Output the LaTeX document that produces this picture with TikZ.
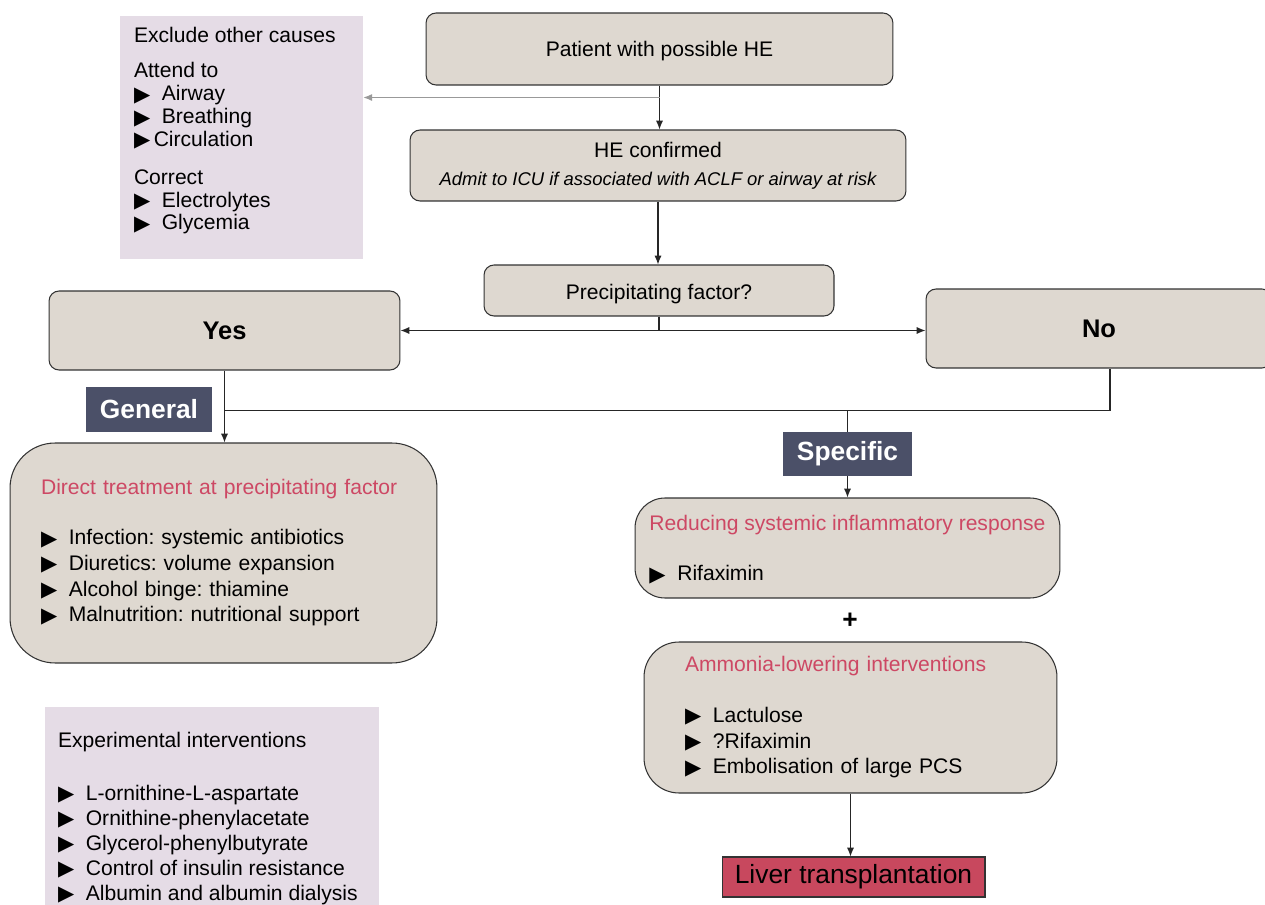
\documentclass[tikz,border=0pt]{standalone}
\usepackage{fontspec}
\setmainfont{Liberation Sans}
\newfontfamily\symfont{DejaVu Sans}
\usetikzlibrary{arrows.meta,positioning}
\definecolor{boxfill}{RGB}{222,216,208}
\definecolor{lilac}{RGB}{229,220,230}
\definecolor{titlepink}{RGB}{205,72,100}
\definecolor{slate}{RGB}{75,80,104}
\definecolor{liverred}{RGB}{200,72,94}
\frenchspacing
\newcommand{\pinktitle}[1]{\textcolor{titlepink}{#1}}
\newcommand{\tri}{\smash{\raisebox{-0.3pt}{\symfont\fontsize{12}{13}\selectfont ▶}}}
\newcommand{\bul}{\tri\hspace{0.55em}}
\tikzset{
  flowbox/.style={draw=black!80, fill=boxfill, line width=0.6pt, rounded corners=0.2cm,
    align=center, font=\fontsize{12}{14.7}\selectfont},
  listbox/.style={flowbox, align=left},
  notebox/.style={fill=lilac, inner sep=0pt},
  notetext/.style={anchor=north west, inner sep=0pt, align=left, font=\fontsize{12}{13}\selectfont},
  tag/.style={fill=slate, text=white, font=\fontsize{15}{18}\selectfont\bfseries, inner sep=0pt},
  link/.style={line width=0.6pt, draw=black!85},
}
\begin{document}
\begin{tikzpicture}[x=0.02cm, y=-0.02cm, >={Latex[length=5pt,width=4pt]}]
\useasboundingbox (0,0) rectangle (1265,905);
% main column
\node[flowbox, minimum width=9.34cm, minimum height=1.44cm, text height=1.1em] (patient) at (659.5,49) {Patient with possible HE};
\node[flowbox, minimum width=9.92cm, minimum height=1.42cm] (confirmed) at (658,165.5)
    {HE confirmed\\[1pt]{\fontsize{10.5}{13}\selectfont\itshape Admit to ICU if associated with ACLF or airway at risk}};
\node[flowbox, minimum width=7cm, minimum height=1.02cm, text height=1.3em] (factor) at (659,290.5) {Precipitating factor?};
\node[flowbox, minimum width=7.02cm, minimum height=1.58cm, font=\fontsize{14.5}{17}\selectfont\bfseries] (yes) at (224.5,330.5) {Yes};
\node[flowbox, minimum width=6.92cm, minimum height=1.58cm, font=\fontsize{14.5}{17}\selectfont\bfseries] (no) at (1099,328.5) {No};
% side notes
\node[notebox, minimum width=4.86cm, minimum height=4.86cm] (causes) at (241.5,137.5) {};
\node[notetext] (causestext) at ([shift={(0.28cm,-0.23cm)}]causes.north west)
    {Exclude other causes\\[7pt] Attend to\\ \bul Airway\\ \bul Breathing\\ \tri\,Circulation\\[8.5pt]
     Correct\\ \bul Electrolytes\\ \bul Glycemia};
\node[notebox, minimum width=6.68cm, minimum height=4.2cm] (experimental) at (212,812) {};
\node[notetext, font=\fontsize{12}{14.2}\selectfont] (exptext) at ([shift={(0.26cm,-0.5cm)}]experimental.north west)
    {Experimental interventions\\[16pt] \bul L-ornithine-L-aspartate\\ \bul Ornithine-phenylacetate\\
     \bul Glycerol-phenylbutyrate\\ \bul Control of insulin resistance\\ \bul Albumin and albumin dialysis};
% treatments
\node[listbox, minimum width=8.54cm, minimum height=4.4cm, rounded corners=0.9cm, text width=7.3cm] (direct) at (223.5,553)
    {\pinktitle{Direct treatment at precipitating factor}\\[13.5pt] \bul Infection: systemic antibiotics\\
     \bul Diuretics: volume expansion\\ \bul Alcohol binge: thiamine\\ \bul Malnutrition: nutritional support};
\node[listbox, minimum width=8.5cm, minimum height=2cm, rounded corners=0.6cm] (reduce) at (847.5,548)
    {\pinktitle{Reducing systemic inflammatory response}\\[14pt] \bul Rifaximin};
\node[font=\fontsize{15}{18}\selectfont\bfseries] (plus) at (850,621) {+};
\node[listbox, minimum width=8.26cm, minimum height=3.02cm, rounded corners=0.7cm, text width=6.62cm] (ammonia) at (850.5,717.5)
    {\pinktitle{Ammonia-lowering interventions}\\[14pt] \bul Lactulose\\ \bul ?Rifaximin\\ \bul Embolisation of large PCS};
\node[draw=black!80, fill=liverred, line width=0.6pt, minimum width=5.26cm, minimum height=0.8cm, inner sep=0pt,
    font=\fontsize{15}{18}\selectfont] (liver) at (853.5,877) {Liver transplantation};
\node[tag, minimum width=2.52cm, minimum height=0.9cm] (general) at (149,409.5) {General};
% connectors
\coordinate (tap) at ([yshift=-0.24cm]patient.south);
\coordinate (ybar) at ([yshift=-0.8cm]yes.south);
\coordinate (nodrop) at ([xshift=0.22cm]no.south);
\draw[link, ->] (patient.south) -- (patient.south |- confirmed.north);
\draw[link, ->, draw=gray!80] (tap) -- (tap -| causes.east);
\draw[link, ->] (confirmed.south) -- (confirmed.south |- factor.north);
\draw[link] (factor.south) -- (factor.south |- yes.east);
\draw[link, <->] (yes.east) -- (yes.east -| no.west);
\draw[link, ->] (yes.south) -- (yes.south |- direct.north);
\draw[link] (ybar) -- (ybar -| nodrop) -- (nodrop);
\draw[link, ->] (reduce.north |- ybar) -- (reduce.north);
\draw[link, ->] (ammonia.south) -- (ammonia.south |- liver.north);
\node[tag, minimum width=2.58cm, minimum height=0.88cm, text height=1.1em] (specific) at (847.5,454) {Specific};
\end{tikzpicture}
\end{document}
